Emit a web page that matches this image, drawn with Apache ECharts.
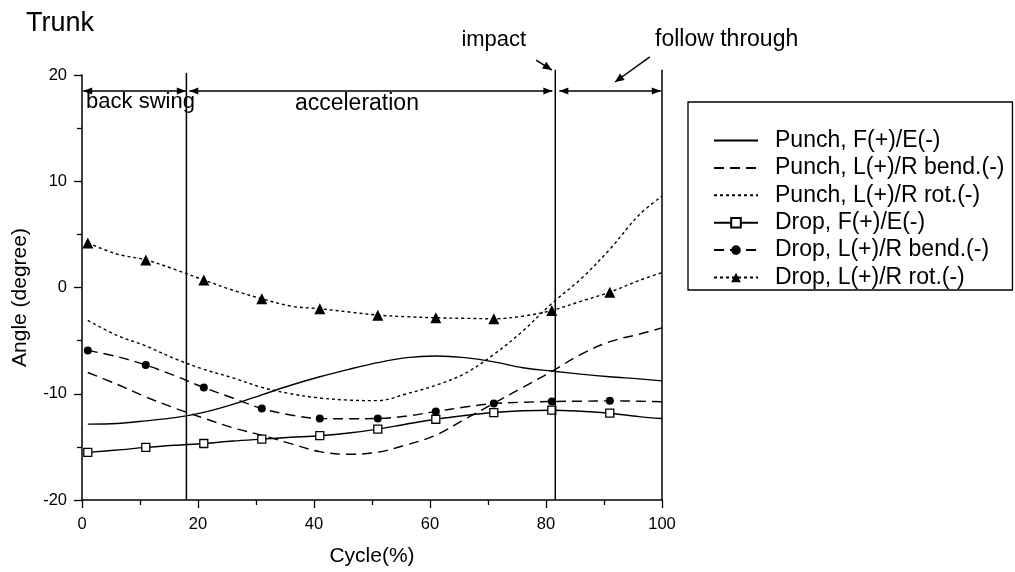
<!DOCTYPE html>
<html><head><meta charset="utf-8">
<script src="https://cdn.jsdelivr.net/npm/echarts@6/dist/echarts.min.js"></script>
<style>html,body{margin:0;padding:0;background:#fff}#main{width:1015px;height:572px}</style>
</head><body><div id="main"></div>
<script>
const FONT = '"Liberation Sans", Arial, Helvetica, sans-serif';

// ---- data ----
const cycle     = [1, 6, 11, 16, 21, 26, 31, 36, 41, 46, 51, 56, 61, 66, 71, 76, 81, 86, 91, 96, 100];
const punchFE   = [-12.86,-12.8,-12.55,-12.25,-11.75,-11.0,-10.1,-9.2,-8.4,-7.7,-7.07,-6.6,-6.45,-6.6,-7.0,-7.55,-7.86,-8.15,-8.4,-8.6,-8.79];
const punchBend = [-8.0,-9.1,-10.3,-11.35,-12.3,-13.2,-13.9,-14.7,-15.45,-15.7,-15.5,-14.8,-13.9,-12.4,-10.9,-9.4,-7.9,-6.3,-5.1,-4.4,-3.8];
const punchRot  = [-3.1,-4.5,-5.5,-6.7,-7.7,-8.5,-9.4,-10.0,-10.4,-10.6,-10.65,-10.0,-9.2,-8.1,-6.3,-4.1,-1.5,0.8,3.6,6.8,8.6];
const dropFE    = [-15.52,-15.3,-15.05,-14.85,-14.68,-14.45,-14.27,-14.1,-13.95,-13.7,-13.33,-12.85,-12.4,-12.05,-11.77,-11.6,-11.55,-11.65,-11.83,-12.15,-12.33];
const dropBend  = [-5.92,-6.5,-7.3,-8.3,-9.42,-10.4,-11.39,-12.0,-12.33,-12.35,-12.33,-12.1,-11.67,-11.25,-10.92,-10.8,-10.73,-10.7,-10.67,-10.7,-10.75];
const dropRot   = [4.2,3.15,2.6,1.7,0.7,-0.25,-1.06,-1.75,-2.0,-2.3,-2.6,-2.75,-2.85,-2.9,-2.94,-2.7,-2.16,-1.3,-0.44,0.65,1.4];
const markerCycles = [1, 11, 21, 31, 41, 51, 61, 71, 81, 91];

const seriesNames = ['Punch, F(+)/E(-)', 'Punch, L(+)/R bend.(-)', 'Punch, L(+)/R rot.(-)',
                     'Drop, F(+)/E(-)', 'Drop, L(+)/R bend.(-)', 'Drop, L(+)/R rot.(-)'];

// phase annotations (data units: cycle %, degrees)
const phaseLines  = [18, 81.6, 100];
const phaseTops   = [20.2, 20.5, 20.5];
const arrowLevel  = 18.5;
const phaseSpans  = [[0.2, 17.9], [18.5, 81.1], [82.3, 99.8]];
const phaseLabels = [
  {text: 'back swing',     x: 0.7,  y: 17.43, align: 'left',   size: 22},
  {text: 'acceleration',   x: 47.4, y: 17.3,  align: 'center', size: 23},
  {text: 'impact',         x: 71.0, y: 23.3,  align: 'center', size: 22},
  {text: 'follow through', x: 98.8, y: 23.3,  align: 'left',   size: 23}
];
const pointerArrows = [[[78.3, 21.4], [81.0, 20.47]], [[97.9, 21.7], [91.9, 19.34]]];

// ---- build series ----
function mk(name, arr, sym, size, dash, itemStyle) {
  return {
    name, type: 'line', smooth: 0.35,
    symbol: sym, symbolSize: size,
    lineStyle: {color: '#000', width: 1.4, type: dash},
    itemStyle: itemStyle || {color: '#000'},
    emphasis: {disabled: true},
    data: cycle.map((x, i) => markerCycles.indexOf(x) >= 0 && sym !== 'none'
      ? {value: [x, arr[i]]} : {value: [x, arr[i]], symbol: 'none'})
  };
}
const series = [
  mk(seriesNames[0], punchFE,   'none', 4, 'solid'),
  mk(seriesNames[1], punchBend, 'none', 4, [10, 6]),
  mk(seriesNames[2], punchRot,  'none', 4, [3, 3]),
  mk(seriesNames[3], dropFE,    'rect', 8, 'solid', {color: '#fff', borderColor: '#000', borderWidth: 1.3}),
  mk(seriesNames[4], dropBend,  'circle', 8, [10, 6]),
  mk(seriesNames[5], dropRot,   'triangle', 11, [3, 3])
];

const option = {
  animation: false,
  backgroundColor: '#fff',
  title: {text: 'Trunk', left: 21, top: 5,
    textStyle: {fontSize: 27, fontWeight: 'normal', fontFamily: FONT, color: '#000'}},
  grid: {left: 82, right: 353, top: 75, bottom: 71, containLabel: false},
  legend: {
    orient: 'vertical', left: 688, top: 102,
    padding: [27, 8, 1, 25],
    itemWidth: 44, itemHeight: 12, itemGap: 4.4,
    borderColor: '#000', borderWidth: 1.3,
    selectedMode: false,
    textStyle: {fontSize: 23, fontFamily: FONT, color: '#000', lineHeight: 22, padding: [0, 0, 0, 12]},
    data: seriesNames.map((n, i) => i < 3 ? {name: n, itemStyle: {opacity: 0}} : {name: n})
  },
  xAxis: {
    type: 'value', min: 0, max: 100, interval: 20,
    name: 'Cycle(%)', nameLocation: 'middle', nameGap: 46,
    nameTextStyle: {fontSize: 21, fontFamily: FONT, color: '#000'},
    axisLine: {onZero: false, lineStyle: {color: '#000', width: 1.5}},
    axisTick: {inside: false, length: 8, lineStyle: {color: '#000', width: 1.3}},
    minorTick: {show: true, splitNumber: 2, length: 5, lineStyle: {color: '#000', width: 1.3}},
    axisLabel: {fontSize: 16.5, fontFamily: FONT, color: '#000', margin: 16},
    splitLine: {show: false}
  },
  yAxis: {
    type: 'value', min: -20, max: 20, interval: 10,
    name: 'Angle (degree)', nameLocation: 'middle', nameGap: 51,
    nameTextStyle: {fontSize: 21, fontFamily: FONT, color: '#000', padding: [0, 20, 0, 0]},
    axisLine: {onZero: false, lineStyle: {color: '#000', width: 1.5}},
    axisTick: {inside: false, length: 8, lineStyle: {color: '#000', width: 1.3}},
    minorTick: {show: true, splitNumber: 2, length: 5, lineStyle: {color: '#000', width: 1.3}},
    axisLabel: {fontSize: 16.5, fontFamily: FONT, color: '#000', margin: 15},
    splitLine: {show: false}
  },
  series
};

const chart = echarts.init(document.getElementById('main'), null, {renderer: 'canvas'});
chart.setOption(option);

// ---- annotations, positioned through the chart's own scales ----
const P = p => chart.convertToPixel({gridIndex: 0}, p);
const g = [];
function seg(a, b, w) {
  g.push({type: 'line', z: 10, silent: true,
    shape: {x1: a[0], y1: a[1], x2: b[0], y2: b[1]}, style: {stroke: '#000', lineWidth: w || 1.5}});
}
function head(tip, from, L, W) {
  L = L || 9; W = W || 3.5;
  const dx = tip[0] - from[0], dy = tip[1] - from[1], d = Math.hypot(dx, dy);
  const ux = dx / d, uy = dy / d, bx = tip[0] - ux * L, by = tip[1] - uy * L;
  g.push({type: 'polygon', z: 11, silent: true,
    shape: {points: [tip, [bx - uy * W, by + ux * W], [bx + uy * W, by - ux * W]]}, style: {fill: '#000'}});
}
phaseLines.forEach((x, i) => seg(P([x, -20]), P([x, phaseTops[i]]), 1.5));
phaseSpans.forEach(s => {
  const a = P([s[0], arrowLevel]), b = P([s[1], arrowLevel]);
  seg(a, b, 1.5); head(a, b); head(b, a);
});
pointerArrows.forEach(pa => {
  const a = P(pa[0]), b = P(pa[1]);
  seg(a, b, 1.5); head(b, a, 9, 4);
});
phaseLabels.forEach(l => {
  const p = P([l.x, l.y]);
  g.push({type: 'text', z: 12, silent: true, x: p[0], y: p[1],
    style: {text: l.text, fill: '#000', font: l.size + 'px ' + FONT,
      align: l.align, textAlign: l.align, verticalAlign: 'middle', textVerticalAlign: 'middle'}});
});
chart.setOption({graphic: g});
</script>
</body></html>
